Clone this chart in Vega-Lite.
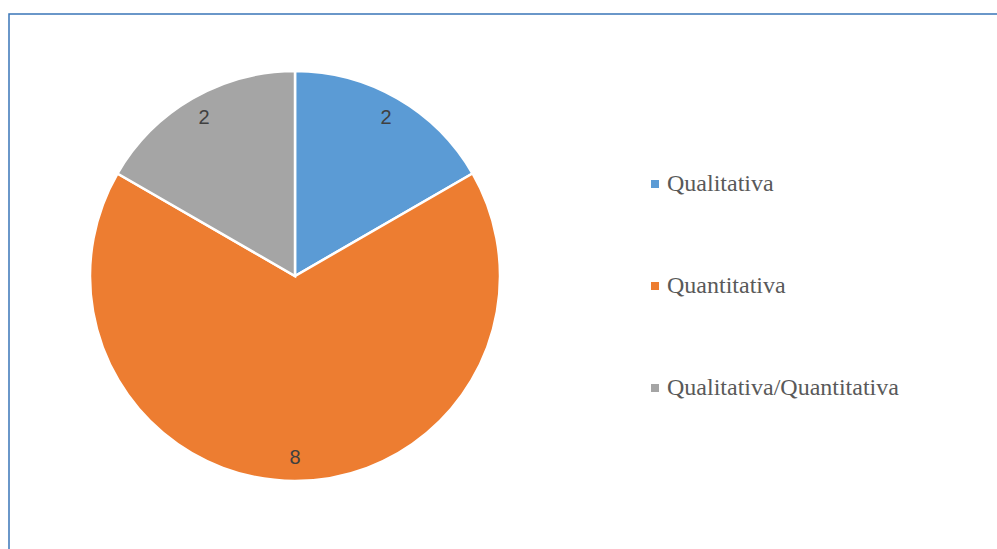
{
  "$schema": "https://vega.github.io/schema/vega-lite/v6.json",
  "width": 1000,
  "height": 540,
  "autosize": {"type": "none"},
  "padding": {"left": 9, "top": 14, "right": 0, "bottom": 0},
  "background": "white",
  "view": {"stroke": "#3A76B8", "strokeWidth": 1.5, "fill": "white"},
  "config": {
    "view": {"stroke": "#3A76B8", "strokeWidth": 1.5}
  },
  "data": {
    "values": [
      {"categoria": "Qualitativa", "n": 2, "ord": 1},
      {"categoria": "Quantitativa", "n": 8, "ord": 2},
      {"categoria": "Qualitativa/Quantitativa", "n": 2, "ord": 3}
    ]
  },
  "encoding": {
    "theta": {"field": "n", "type": "quantitative", "stack": true},
    "order": {"field": "ord", "type": "quantitative"},
    "color": {
      "field": "categoria",
      "type": "nominal",
      "sort": ["Qualitativa", "Quantitativa", "Qualitativa/Quantitativa"],
      "scale": {
        "domain": ["Qualitativa", "Quantitativa", "Qualitativa/Quantitativa"],
        "range": ["#5B9BD5", "#ED7D31", "#A5A5A5"]
      },
      "legend": {
        "orient": "none",
        "legendX": 634,
        "legendY": 158,
        "title": null,
        "symbolType": "square",
        "symbolSize": 64,
        "symbolStrokeWidth": 0,
        "labelFont": "Liberation Serif",
        "labelFontSize": 24,
        "labelColor": "#595959",
        "labelOffset": 0,
        "labelLimit": 400,
        "rowPadding": 78
      }
    }
  },
  "layer": [
    {
      "mark": {"type": "arc", "x": 286, "y": 262, "outerRadius": 205, "stroke": "white", "strokeWidth": 2.5}
    },
    {
      "mark": {"type": "text", "x": 286, "y": 262, "radius": 182, "font": "Liberation Sans", "fontSize": 20, "fill": "#404040", "baseline": "middle", "align": "center"},
      "encoding": {
        "text": {"field": "n", "type": "quantitative"},
        "color": {"value": "#404040"}
      }
    }
  ]
}
